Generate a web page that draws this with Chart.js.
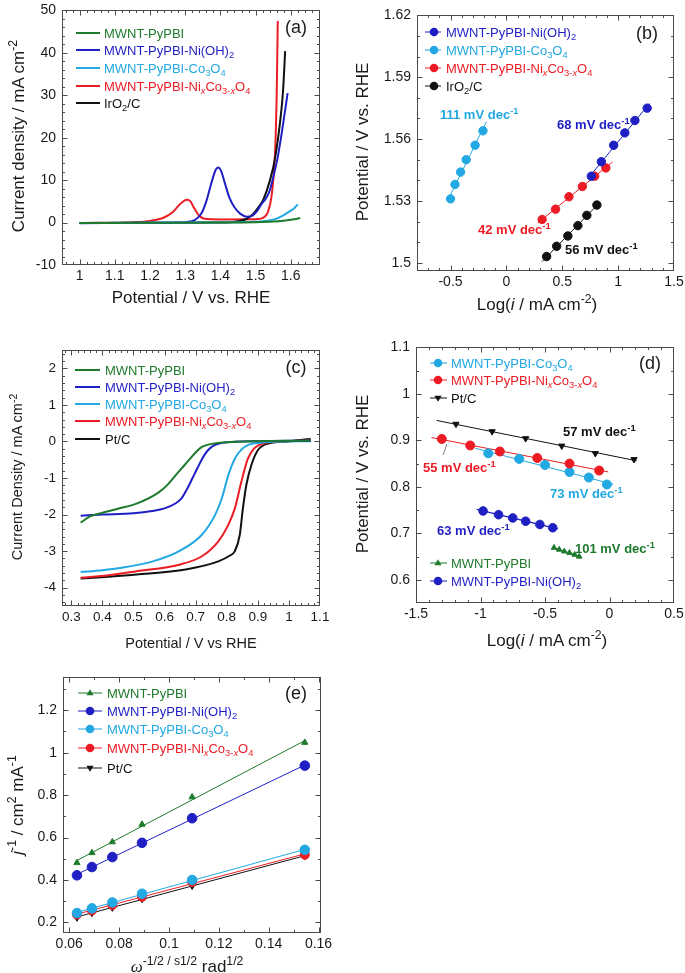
<!DOCTYPE html>
<html><head><meta charset="utf-8">
<script src="https://cdn.jsdelivr.net/npm/chart.js@4/dist/chart.umd.min.js"></script>
<style>
html,body{margin:0;padding:0;background:#fff;}
#wrap{position:relative;width:685px;height:973px;overflow:hidden;background:#fff;font-family:"Liberation Sans",Arial,sans-serif;}
canvas{position:absolute;}
.t{position:absolute;white-space:nowrap;color:#1a1a1a;line-height:1;}
.yt{transform:translate(-50%,-50%) rotate(-90deg);}
.xt{transform:translate(-50%,-50%);}
.lg{transform:translateY(-50%);font-size:13px;}
.nt{transform:translateY(-50%);font-size:13px;font-weight:bold;}
.pl{transform:translate(-50%,-50%);font-size:18px;}
sub{font-size:72%;vertical-align:-0.38em;line-height:0;}
sup{font-size:72%;vertical-align:0.5em;line-height:0;}
svg{position:absolute;overflow:visible;}
</style></head><body><div id="wrap"></div>
<script>
// ---------- series names ----------
const names = ['MWNT-PyPBI','MWNT-PyPBI-Ni(OH)2','MWNT-PyPBI-Co3O4','MWNT-PyPBI-NixCo3-xO4','IrO2/C','Pt/C'];

// ---------- panel (a) : OER polarisation, [potential V, current mA cm-2] ----------
const aPyPBI = [[1.0,-0.1],[1.2,-0.05],[1.4,0.0],[1.5,0.1],[1.55,0.25],[1.58,0.45],[1.6,0.65],[1.615,0.85],[1.627,1.1]];
const aNiOH  = [[1.0,-0.15],[1.2,-0.05],[1.3,0.1],[1.325,0.5],[1.345,2.0],[1.36,5.0],[1.375,9.5],[1.387,12.5],[1.394,13.0],[1.402,12.2],[1.412,9.5],[1.425,6.0],[1.44,3.6],[1.456,2.1],[1.475,1.4],[1.49,1.6],[1.505,2.8],[1.518,4.5],[1.528,5.5],[1.54,7.5],[1.551,11.0],[1.562,15.0],[1.575,21.5],[1.591,30.5]];
const aCo    = [[1.0,-0.1],[1.45,0.1],[1.5,0.2],[1.53,0.35],[1.555,0.8],[1.579,1.7],[1.598,2.7],[1.61,3.4],[1.62,4.3]];
const aNiCo  = [[1.0,-0.1],[1.15,0.1],[1.2,0.4],[1.24,1.2],[1.265,2.5],[1.285,4.3],[1.3,5.3],[1.306,5.4],[1.315,5.0],[1.325,3.5],[1.34,1.6],[1.355,0.9],[1.4,0.75],[1.5,0.8],[1.525,1.3],[1.535,2.5],[1.545,6.0],[1.552,12.0],[1.557,20.0],[1.56,30.0],[1.563,47.5]];
const aIrO2  = [[1.0,-0.1],[1.4,0.0],[1.45,0.3],[1.475,0.9],[1.494,2.1],[1.51,3.8],[1.522,5.4],[1.541,10.0],[1.556,15.5],[1.57,24.0],[1.578,31.0],[1.584,40.4]];
const aXTicks = [1,1.1,1.2,1.3,1.4,1.5,1.6];
const aYTicks = [-10,0,10,20,30,40,50];

// ---------- panel (b) : OER Tafel ----------
const bCoX   = [-0.50,-0.46,-0.41,-0.36,-0.28,-0.21];
const bCoY   = [1.531,1.538,1.544,1.550,1.557,1.564];
const bNiOHX = [0.76,0.85,0.96,1.06,1.15,1.26];
const bNiOHY = [1.542,1.549,1.557,1.563,1.569,1.575];
const bNiCoX = [0.32,0.44,0.56,0.68,0.79,0.89];
const bNiCoY = [1.521,1.526,1.532,1.537,1.542,1.546];
const bIrX   = [0.36,0.45,0.55,0.64,0.72,0.81];
const bIrY   = [1.503,1.508,1.513,1.518,1.523,1.528];
const bXTicks = [-0.5,0,0.5,1,1.5];
const bYTicks = [1.5,1.53,1.56,1.59,1.62];

// ---------- panel (c) : ORR polarisation ----------
const cPyPBI = [[0.33,-2.22],[0.36,-2.05],[0.40,-1.95],[0.45,-1.84],[0.51,-1.70],[0.58,-1.40],[0.61,-1.18],[0.636,-0.92],[0.673,-0.56],[0.70,-0.30],[0.72,-0.15],[0.77,-0.04],[0.826,-0.01],[1.07,0.03]];
const cNiOH  = [[0.33,-2.03],[0.40,-2.0],[0.50,-1.96],[0.56,-1.90],[0.60,-1.83],[0.636,-1.69],[0.655,-1.55],[0.673,-1.29],[0.69,-1.0],[0.705,-0.74],[0.731,-0.33],[0.763,-0.09],[0.826,-0.01],[1.07,0.02]];
const cCo    = [[0.33,-3.57],[0.40,-3.52],[0.457,-3.46],[0.562,-3.28],[0.647,-3.0],[0.72,-2.55],[0.763,-2.0],[0.784,-1.56],[0.805,-0.92],[0.826,-0.47],[0.857,-0.15],[0.90,-0.04],[1.07,0.01]];
const cNiCo  = [[0.33,-3.73],[0.42,-3.66],[0.51,-3.55],[0.647,-3.37],[0.72,-3.14],[0.773,-2.73],[0.805,-2.28],[0.826,-1.83],[0.847,-1.10],[0.868,-0.47],[0.889,-0.18],[0.92,-0.05],[0.97,0.0],[1.07,0.03]];
const cPtC   = [[0.33,-3.75],[0.42,-3.70],[0.51,-3.64],[0.668,-3.50],[0.773,-3.28],[0.81,-3.12],[0.826,-3.0],[0.842,-2.55],[0.852,-1.83],[0.863,-1.19],[0.879,-0.65],[0.90,-0.24],[0.931,-0.06],[0.994,0.0],[1.07,0.07]];
const cXTicks = [0.3,0.4,0.5,0.6,0.7,0.8,0.9,1,1.1];
const cYTicks = [-4,-3,-2,-1,0,1,2];

// ---------- panel (d) : ORR Tafel ----------
const dCoX   = [-0.94,-0.70,-0.50,-0.31,-0.16,-0.02];
const dCoY   = [0.872,0.860,0.847,0.832,0.820,0.805];
const dNiCoX = [-1.30,-1.08,-0.85,-0.56,-0.31,-0.08];
const dNiCoY = [0.903,0.889,0.876,0.862,0.850,0.835];
const dPtX   = [-1.19,-0.91,-0.65,-0.37,-0.11,0.19];
const dPtY   = [0.935,0.919,0.904,0.888,0.872,0.859];
const dNiOHX = [-0.98,-0.86,-0.75,-0.65,-0.54,-0.44];
const dNiOHY = [0.748,0.740,0.733,0.726,0.719,0.712];
const dPyX   = [-0.43,-0.39,-0.35,-0.31,-0.27,-0.235];
const dPyY   = [0.669,0.665,0.661,0.658,0.654,0.650];
const dXTicks = [-1.5,-1,-0.5,0,0.5];
const dYTicks = [0.6,0.7,0.8,0.9,1,1.1];

// ---------- panel (e) : Koutecky-Levich ----------
const eX     = [0.0631,0.0691,0.0773,0.0892,0.1093,0.1545];
const ePyPBI = [0.481,0.528,0.579,0.662,0.791,1.048];
const eNiOH  = [0.422,0.461,0.508,0.575,0.691,0.939];
const eCo    = [0.244,0.266,0.294,0.335,0.400,0.542];
const eNiCo  = [0.237,0.256,0.282,0.321,0.390,0.519];
const ePtC   = [0.223,0.245,0.270,0.311,0.373,0.513];
const eXTicks = [0.06,0.08,0.1,0.12,0.14,0.16];
const eYTicks = [0.2,0.4,0.6,0.8,1,1.2];

// ---------- styling ----------
const F = '"Liberation Sans", Arial, sans-serif';
const COL = {green:'#1e7a2c', blue:'#1f1fc4', cyan:'#22a8e2', red:'#ec1c24', black:'#111111'};
const wrap = document.getElementById('wrap');

const framePlugin = {
  id:'frame',
  afterDraw(chart, args, o){
    const {ctx, chartArea:a} = chart, sx = chart.scales.x, sy = chart.scales.y;
    const L=Math.round(a.left)+0.5, R=Math.round(a.right)-0.5, T=Math.round(a.top)+0.5, B=Math.round(a.bottom)-0.5;
    ctx.save();
    ctx.strokeStyle='#4a4a4a'; ctx.lineWidth=1;
    ctx.beginPath();
    const tx=(v,len)=>{const p=Math.round(sx.getPixelForValue(v))+0.5; if(p<L-0.2||p>R+0.2)return; ctx.moveTo(p,B);ctx.lineTo(p,B-len);ctx.moveTo(p,T);ctx.lineTo(p,T+len);};
    const ty=(v,len)=>{const p=Math.round(sy.getPixelForValue(v))+0.5; if(p<T-0.2||p>B+0.2)return; ctx.moveTo(L,p);ctx.lineTo(L+len,p);ctx.moveTo(R,p);ctx.lineTo(R-len,p);};
    const minor=(s,step)=>{const out=[];for(let k=Math.ceil(s.min/step-1e-9);k*step<=s.max+1e-9;k++)out.push(k*step);return out;};
    minor(sx,o.xMinor).forEach(v=>tx(v,2.5));
    minor(sy,o.yMinor).forEach(v=>ty(v,2.5));
    sx.ticks.forEach(t=>tx(t.value,5));
    sy.ticks.forEach(t=>ty(t.value,5));
    ctx.stroke();
    ctx.strokeRect(L,T,R-L,B-T);
    ctx.restore();
  }
};

function panel(g, xa, ya, datasets, minor){
  const Lw=60, Tp=12, Rp=22, Bh=34;
  const cv=document.createElement('canvas');
  const w=g.r-g.l+Lw+Rp, h=g.b-g.t+Tp+Bh;
  cv.width=w; cv.height=h;
  Object.assign(cv.style,{left:(g.l-Lw)+'px',top:(g.t-Tp)+'px',width:w+'px',height:h+'px'});
  wrap.appendChild(cv);
  const fs=g.fs||14;
  const axis=(ax,fit,pad,pos)=>({type:'linear',position:pos,min:ax.min,max:ax.max,afterFit:fit,
    afterBuildTicks(s){s.ticks=ax.ticks.map(v=>({value:v}));},
    grid:{display:false,drawTicks:false},border:{display:false},
    ticks:{autoSkip:false,maxRotation:0,padding:pad,color:'#1a1a1a',font:{family:F,size:fs},callback:v=>String(+(+v).toFixed(3))}});
  return new Chart(cv,{type:'scatter',data:{datasets},
    options:{responsive:false,animation:false,devicePixelRatio:1,
      layout:{padding:{left:0,top:Tp,right:Rp,bottom:0}},
      plugins:{legend:{display:false},tooltip:{enabled:false},frame:minor},
      scales:{x:axis(xa,s=>{s.height=Bh;},3,'bottom'),y:axis(ya,s=>{s.width=Lw;},6,'left')}},
    plugins:[framePlugin]});
}

const curve=(pts,color,w)=>({data:pts.map(p=>({x:p[0],y:p[1]})),showLine:true,borderColor:color,borderWidth:w||2,pointRadius:0,cubicInterpolationMode:'monotone',fill:false,order:2});
const marks=(xs,ys,color,style,r,rot)=>({data:xs.map((x,i)=>({x,y:ys[i]})),showLine:false,pointStyle:style,pointRadius:r,pointRotation:rot||0,pointBackgroundColor:color,pointBorderColor:color,pointBorderWidth:1,order:1});
function fitLine(xs,ys,color,e0,e1,w){
  const n=xs.length;let sx=0,sy=0,sxx=0,sxy=0;
  for(let i=0;i<n;i++){sx+=xs[i];sy+=ys[i];sxx+=xs[i]*xs[i];sxy+=xs[i]*ys[i];}
  const m=(n*sxy-sx*sy)/(n*sxx-sx*sx), b=(sy-m*sx)/n;
  const x0=Math.min(...xs)-e0, x1=Math.max(...xs)+e1;
  return {data:[{x:x0,y:m*x0+b},{x:x1,y:m*x1+b}],showLine:true,borderColor:color,borderWidth:w||1,pointRadius:0,order:2};
}

// ---------- charts ----------
panel({l:62,r:320,t:8,b:265},{min:0.95,max:1.683,ticks:aXTicks},{min:-10,max:50,ticks:aYTicks},[
  curve(aPyPBI,COL.green),curve(aCo,COL.cyan),curve(aNiOH,COL.blue),curve(aIrO2,COL.black),curve(aNiCo,COL.red)
],{xMinor:0.02,yMinor:2});

panel({l:417,r:674,t:13,b:271},{min:-0.8,max:1.5,ticks:bXTicks},{min:1.496,max:1.62,ticks:bYTicks},[
  marks(bCoX,bCoY,COL.cyan,'circle',4.2),marks(bNiOHX,bNiOHY,COL.blue,'circle',4.2),
  marks(bNiCoX,bNiCoY,COL.red,'circle',4.2),marks(bIrX,bIrY,COL.black,'circle',4.2),
  fitLine(bCoX,bCoY,COL.cyan,0.02,0.03),fitLine(bNiOHX,bNiOHY,COL.blue,0.03,0.02),
  fitLine(bNiCoX,bNiCoY,COL.red,0.04,0.06),fitLine(bIrX,bIrY,COL.black,0.04,0.02)
],{xMinor:0.1,yMinor:0.01});

panel({l:62,r:320,t:348,b:606,fs:13.5},{min:0.27,max:1.1,ticks:cXTicks},{min:-4.5,max:2.5,ticks:cYTicks},[
  curve(cPyPBI,COL.green),curve(cNiOH,COL.blue),curve(cCo,COL.cyan),curve(cNiCo,COL.red),curve(cPtC,COL.black)
],{xMinor:0.02,yMinor:0.2});

panel({l:416,r:674,t:345,b:603},{min:-1.5,max:0.5,ticks:dXTicks},{min:0.55,max:1.1,ticks:dYTicks},[
  marks(dPtX,dPtY,COL.black,'triangle',3.6,180),marks(dNiCoX,dNiCoY,COL.red,'circle',4.5),
  marks(dCoX,dCoY,COL.cyan,'circle',4.5),marks(dNiOHX,dNiOHY,COL.blue,'circle',4.3),
  marks(dPyX,dPyY,COL.green,'triangle',3.2),
  fitLine(dPtX,dPtY,COL.black,0.15,0.02),fitLine(dNiCoX,dNiCoY,COL.red,0.08,0.07),
  fitLine(dCoX,dCoY,COL.cyan,0.1,0.05),fitLine(dNiOHX,dNiOHY,COL.blue,0.05,0.04,1.3),
  fitLine(dPyX,dPyY,COL.green,0.01,0.01,1.3)
],{xMinor:0.1,yMinor:0.05});

panel({l:63,r:321,t:675,b:933},{min:0.0575,max:0.161,ticks:eXTicks},{min:0.15,max:1.355,ticks:eYTicks},[
  marks(eX,ePyPBI,COL.green,'triangle',3.6),marks(eX,eNiOH,COL.blue,'circle',4.8),
  marks(eX,eCo,COL.cyan,'circle',4.8),marks(eX,eNiCo,COL.red,'circle',4.5),
  marks(eX,ePtC,COL.black,'triangle',3.8,180),
  fitLine(eX,ePyPBI,COL.green,0,0),fitLine(eX,eNiOH,COL.blue,0,0),fitLine(eX,eCo,COL.cyan,0,0),
  fitLine(eX,eNiCo,COL.red,0,0),fitLine(eX,ePtC,COL.black,0,0)
],{xMinor:0.01,yMinor:0.1});

// ---------- text overlays ----------
function txt(html,x,y,cls,st){const d=document.createElement('div');d.className='t '+cls;d.innerHTML=html;d.style.left=x+'px';d.style.top=y+'px';Object.assign(d.style,st||{});wrap.appendChild(d);return d;}
const NS='http://www.w3.org/2000/svg';
function swatch(x1,x2,mx,y,color,marker,lw){
  const s=document.createElementNS(NS,'svg');s.setAttribute('width',x2-x1);s.setAttribute('height',12);
  s.style.left=x1+'px';s.style.top=(y-6)+'px';
  let h=`<line x1="0" y1="6" x2="${x2-x1}" y2="6" stroke="${color}" stroke-width="${lw}"/>`;
  const c=mx-x1;
  if(marker==='circle')h+=`<circle cx="${c}" cy="6" r="4.3" fill="${color}"/>`;
  if(marker==='up')h+=`<polygon points="${c-3.6},8.3 ${c+3.6},8.3 ${c},2.2" fill="${color}"/>`;
  if(marker==='down')h+=`<polygon points="${c-3.6},3.7 ${c+3.6},3.7 ${c},9.8" fill="${color}"/>`;
  s.innerHTML=h;wrap.appendChild(s);
}
const LBL={
  py:'MWNT-PyPBI',
  nioh:'MWNT-PyPBI-Ni(OH)<sub>2</sub>',
  co:'MWNT-PyPBI-Co<sub>3</sub>O<sub>4</sub>',
  nico:'MWNT-PyPBI-Ni<sub><i>x</i></sub>Co<sub>3-<i>x</i></sub>O<sub>4</sub>',
  ir:'IrO<sub>2</sub>/C', pt:'Pt/C'
};
function legend(rows,x1,x2,mx,tx,lw){rows.forEach(r=>{swatch(x1,x2,mx,r[0],r[1],r[2],lw);txt(LBL[r[3]],tx,r[0],'lg',{color:r[1]});});}

// (a)
legend([[33,COL.green,null,'py'],[50,COL.blue,null,'nioh'],[68,COL.cyan,null,'co'],[86,COL.red,null,'nico'],[103,COL.black,null,'ir']],76,100,88,104,2);
txt('(a)',296,27,'pl');
txt('Current density / mA cm<sup>-2</sup>',18,136,'yt',{fontSize:'17px'});
txt('Potential / V vs. RHE',191,297,'xt',{fontSize:'17px'});
// (b)
legend([[32,COL.blue,'circle','nioh'],[50,COL.cyan,'circle','co'],[68,COL.red,'circle','nico'],[86,COL.black,'circle','ir']],425,441,434,446,1);
txt('(b)',647,33,'pl');
txt('Potential / V vs. RHE',362,142,'yt',{fontSize:'17px'});
txt('Log(<i>i</i> / mA cm<sup>-2</sup>)',537,304,'xt',{fontSize:'17px'});
txt('111 mV dec<sup>-1</sup>',440,114,'nt',{color:COL.cyan});
txt('68 mV dec<sup>-1</sup>',557,124,'nt',{color:COL.blue});
txt('42 mV dec<sup>-1</sup>',478,229,'nt',{color:COL.red});
txt('56 mV dec<sup>-1</sup>',565,249,'nt',{color:COL.black});
// (c)
legend([[370,COL.green,null,'py'],[387,COL.blue,null,'nioh'],[404,COL.cyan,null,'co'],[421,COL.red,null,'nico'],[439,COL.black,null,'pt']],75,100,88,105,2);
txt('(c)',296,367,'pl');
txt('Current Density / mA cm<sup>-2</sup>',17,477,'yt',{fontSize:'14.5px'});
txt('Potential / V vs RHE',191,643,'xt',{fontSize:'14.5px'});
// (d)
legend([[363,COL.cyan,'circle','co'],[380,COL.red,'circle','nico'],[398,COL.black,'down','pt'],[563,COL.green,'up','py'],[581,COL.blue,'circle','nioh']],430,447,438,451,1);
txt('(d)',650,363,'pl');
txt('Potential / V vs. RHE',362,474,'yt',{fontSize:'17px'});
txt('Log(<i>i</i> / mA cm<sup>-2</sup>)',547,640,'xt',{fontSize:'17px'});
txt('57 mV dec<sup>-1</sup>',563,431,'nt',{color:COL.black});
txt('55 mV dec<sup>-1</sup>',423,467,'nt',{color:COL.red});
txt('73 mV dec<sup>-1</sup>',550,493,'nt',{color:COL.cyan});
txt('63 mV dec<sup>-1</sup>',437,530,'nt',{color:COL.blue});
txt('101 mV dec<sup>-1</sup>',575,548,'nt',{color:COL.green});
(function(){const s=document.createElementNS(NS,'svg');s.setAttribute('width',10);s.setAttribute('height',14);s.style.left='442px';s.style.top='443px';
 s.innerHTML='<line x1="5" y1="1" x2="1" y2="12" stroke="#666" stroke-width="0.8"/>';wrap.appendChild(s);})();
// (e)
legend([[693,COL.green,'up','py'],[711,COL.blue,'circle','nioh'],[729,COL.cyan,'circle','co'],[748,COL.red,'circle','nico'],[768,COL.black,'down','pt']],78,102,90,107,1);
txt('(e)',296,693,'pl');
txt('<i>j</i><sup>-1</sup> / cm<sup>2</sup> mA<sup>-1</sup>',17,805,'yt',{fontSize:'17px'});
txt('<i style="font-family:\'Liberation Serif\',serif">ω</i><sup>-1/2 / s1/2</sup> rad<sup>1/2</sup>',187,966,'xt',{fontSize:'17px'});
</script></body></html>
